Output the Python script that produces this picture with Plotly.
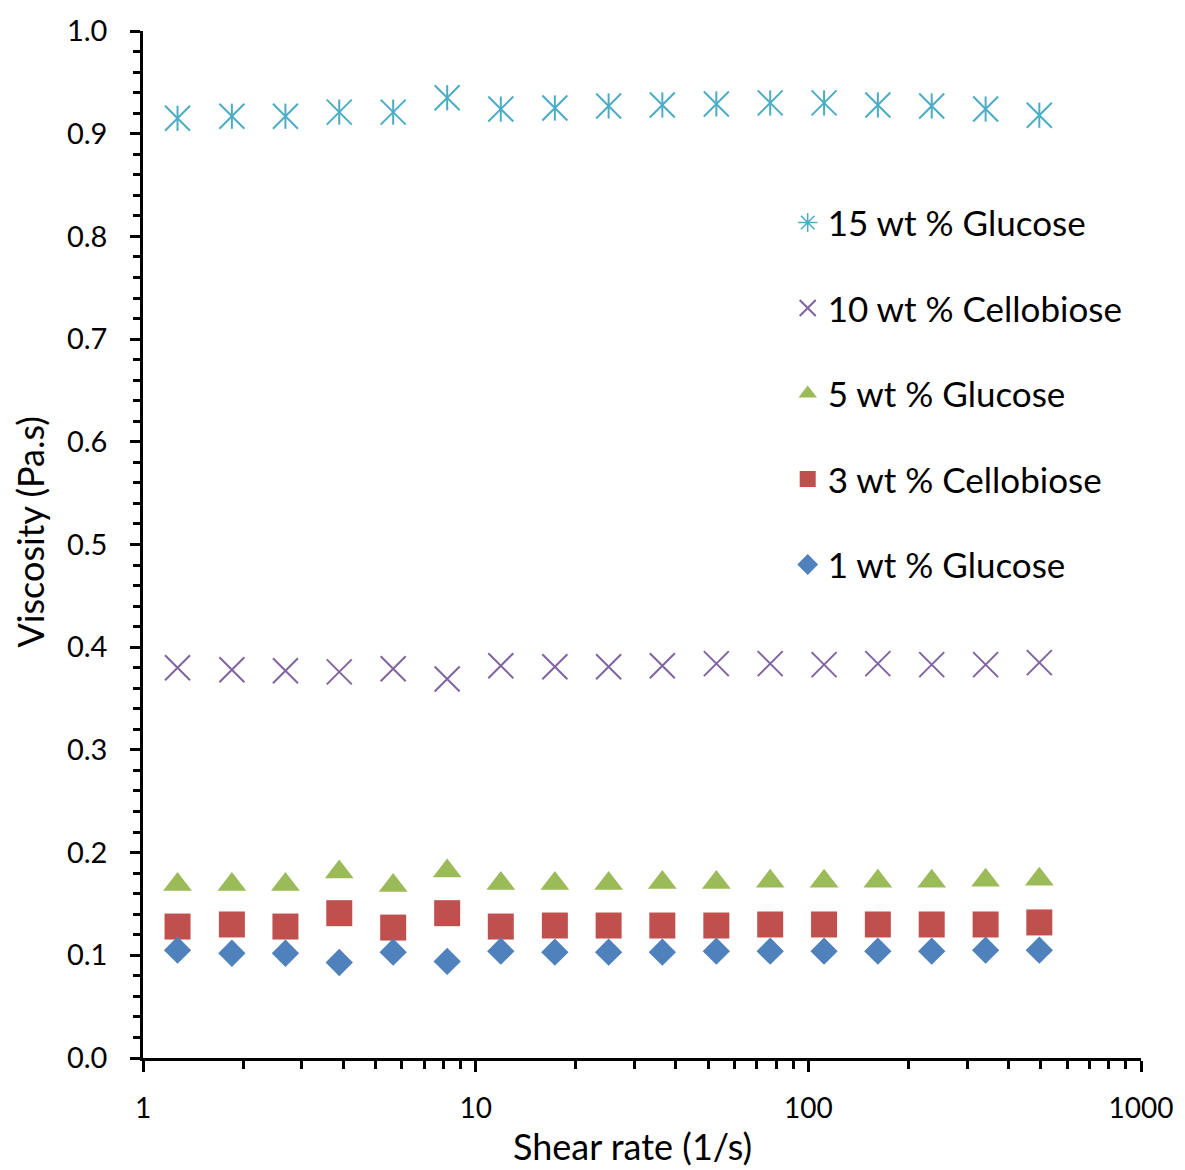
import plotly.graph_objects as go

# Shear rate (1/s)
shear_rate = [1.27, 1.85, 2.68, 3.89, 5.65, 8.21, 11.9, 17.3, 25.1, 36.4,
              52.9, 76.8, 111.5, 161.8, 234.9, 341.1, 494.7]

# Viscosity (Pa.s)
glucose_15 = [0.915, 0.917, 0.917, 0.921, 0.921, 0.935, 0.924, 0.925, 0.927, 0.928,
              0.929, 0.930, 0.930, 0.928, 0.927, 0.924, 0.918]
cellobiose_10 = [0.380, 0.378, 0.377, 0.376, 0.379, 0.369, 0.382, 0.381, 0.381, 0.382,
                 0.384, 0.384, 0.383, 0.384, 0.383, 0.383, 0.385]
glucose_5 = [0.169, 0.169, 0.169, 0.181, 0.168, 0.182, 0.170, 0.170, 0.170, 0.171,
             0.171, 0.172, 0.172, 0.172, 0.172, 0.173, 0.174]
cellobiose_3 = [0.128, 0.130, 0.128, 0.141, 0.127, 0.141, 0.128, 0.129, 0.129, 0.129,
                0.129, 0.130, 0.130, 0.130, 0.130, 0.130, 0.132]
glucose_1 = [0.105, 0.102, 0.102, 0.093, 0.103, 0.094, 0.104, 0.103, 0.103, 0.103,
             0.104, 0.104, 0.104, 0.104, 0.104, 0.105, 0.105]

names = ["15 wt % Glucose", "10 wt % Cellobiose", "5 wt % Glucose",
         "3 wt % Cellobiose", "1 wt % Glucose"]
colors = ["#4BACC6", "#8064A2", "#9BBB59", "#C0504D", "#4F81BD"]

x_ticks = [1, 10, 100, 1000]
x_ticktext = ["1", "10", "100", "1000"]
x_title = "Shear rate (1/s)"
y_title = "Viscosity (Pa.s)"

FONT = "Lato, 'Open Sans', sans-serif"

fig = go.Figure()

# 15 wt % Glucose: star marker = X + vertical bar
fig.add_trace(go.Scatter(x=shear_rate, y=glucose_15, mode="markers", name=names[0],
                         legendgroup="g0", showlegend=False,
                         marker=dict(symbol="x-thin-open", size=25, color=colors[0],
                                     line=dict(width=2, color=colors[0]))))
fig.add_trace(go.Scatter(x=shear_rate, y=glucose_15, mode="markers", name=names[0],
                         legendgroup="g0", showlegend=False,
                         marker=dict(symbol="line-ns-open", size=18, color=colors[0],
                                     line=dict(width=2, color=colors[0]))))
fig.add_trace(go.Scatter(x=[None], y=[None], mode="markers", name=names[0],
                         legendgroup="g0", showlegend=True,
                         marker=dict(symbol="asterisk-open", size=16, color=colors[0],
                                     line=dict(width=1.5, color=colors[0]))))

fig.add_trace(go.Scatter(x=shear_rate, y=cellobiose_10, mode="markers", name=names[1],
                         legendgroup="g1",
                         marker=dict(symbol="x-thin-open", size=25, color=colors[1],
                                     line=dict(width=2, color=colors[1]))))
fig.add_trace(go.Scatter(x=shear_rate, y=glucose_5, mode="markers", name=names[2],
                         legendgroup="g2",
                         marker=dict(symbol="triangle-up", size=25, color=colors[2],
                                     line=dict(width=0))))
fig.add_trace(go.Scatter(x=shear_rate, y=cellobiose_3, mode="markers", name=names[3],
                         legendgroup="g3",
                         marker=dict(symbol="square", size=26, color=colors[3],
                                     line=dict(width=0))))
fig.add_trace(go.Scatter(x=shear_rate, y=glucose_1, mode="markers", name=names[4],
                         legendgroup="g4",
                         marker=dict(symbol="diamond", size=21, color=colors[4],
                                     line=dict(width=0))))

fig.update_layout(
    width=1185, height=1170,
    margin=dict(l=143, r=37, t=29, b=112),
    paper_bgcolor="white", plot_bgcolor="white",
    font=dict(family=FONT, color="black", size=28),
    showlegend=True,
    legend=dict(x=0.646, y=0.842, xanchor="left", yanchor="top",
                traceorder="grouped", tracegroupgap=37,
                font=dict(family=FONT, size=35, color="black"),
                bgcolor="rgba(0,0,0,0)", itemwidth=30),
    xaxis=dict(type="log", range=[0, 3], tickvals=x_ticks, ticktext=x_ticktext,
               showgrid=False, zeroline=False, showline=True, linecolor="black",
               linewidth=2.5, ticks="outside", ticklen=11, tickwidth=2.5,
               tickcolor="black", ticklabelstandoff=13,
               tickfont=dict(family=FONT, size=28),
               minor=dict(ticks="outside", ticklen=8, tickwidth=2.5, tickcolor="black",
                          dtick="D1", showgrid=False)),
    yaxis=dict(range=[0, 1.0], dtick=0.1, tickformat=".1f",
               showgrid=False, zeroline=False, showline=True, linecolor="black",
               linewidth=2.5, ticks="outside", ticklen=10, tickwidth=2.5,
               tickcolor="black", ticklabelstandoff=17,
               tickfont=dict(family=FONT, size=29),
               minor=dict(ticks="outside", ticklen=7, tickwidth=2.5, tickcolor="black",
                          dtick=0.02, showgrid=False)),
    annotations=[
        dict(text=x_title, xref="paper", yref="paper", x=0.5, y=0,
             xanchor="center", yanchor="middle", xshift=-10, yshift=-88,
             showarrow=False, font=dict(family=FONT, size=36, color="black")),
        dict(text=y_title, xref="paper", yref="paper", x=0, y=0.5,
             xanchor="center", yanchor="middle", xshift=-114, yshift=12,
             textangle=-90, showarrow=False,
             font=dict(family=FONT, size=36, color="black")),
    ],
)

fig.write_html("out.html", config={"displayModeBar": False},
               post_script="document.body.style.margin='0';")
